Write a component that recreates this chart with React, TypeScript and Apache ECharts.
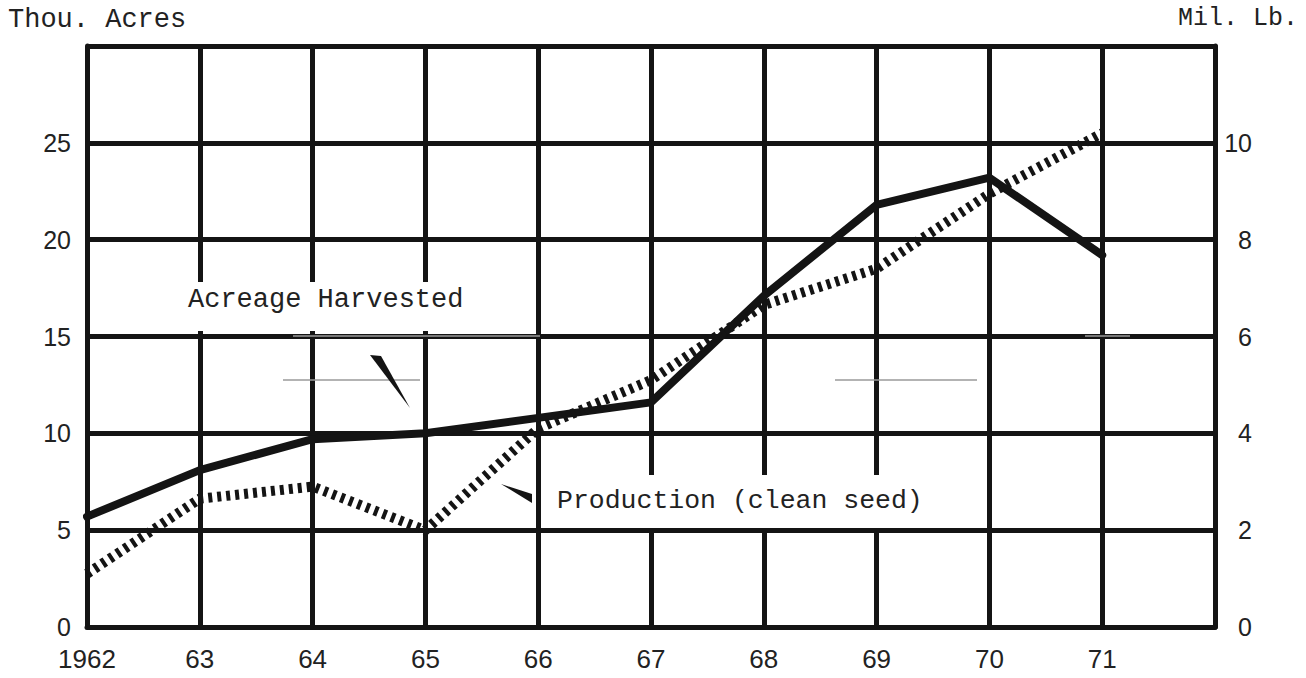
import React, { useEffect, useRef } from "react";
import * as echarts from "echarts";

const years = [1962, 1963, 1964, 1965, 1966, 1967, 1968, 1969, 1970, 1971];
const acreageHarvested = [5.7, 8.1, 9.7, 10.0, 10.8, 11.6, 17.1, 21.8, 23.2, 19.2];
const productionCleanSeed = [1.1, 2.65, 2.9, 2.0, 4.1, 5.1, 6.65, 7.4, 8.95, 10.2];

const xMin = 1962;
const xMax = 1972;
const leftMax = 30;
const leftInterval = 5;
const rightMax = 12;
const rightInterval = 2;

const INK = "#141414";
const MONO = "'Liberation Mono', 'DejaVu Sans Mono', monospace";
const SANS = "'Liberation Sans', Arial, sans-serif";

export default function App() {
  const ref = useRef<HTMLDivElement>(null);

  useEffect(() => {
    if (!ref.current) return;
    const chart = echarts.init(ref.current, undefined, { renderer: "svg" });

    const gridLine = { show: true, lineStyle: { color: INK, width: 5 } };

    chart.setOption({
      animation: false,
      backgroundColor: "#ffffff",
      grid: { left: 87, right: 91, top: 46, bottom: 51, containLabel: false },
      xAxis: {
        type: "value",
        min: xMin,
        max: xMax,
        interval: 1,
        axisLine: { show: true, lineStyle: { color: INK, width: 5 } },
        axisTick: { show: false },
        splitLine: gridLine,
        axisLabel: {
          color: "#222",
          fontFamily: SANS,
          fontSize: 26,
          margin: 19,
          showMaxLabel: true,
          formatter: (v: number) => {
            if (v === 1962) return "1962";
            if (v >= 1972) return "";
            return String(v).slice(2);
          },
        },
      },
      yAxis: [
        {
          type: "value",
          min: 0,
          max: leftMax,
          interval: leftInterval,
          position: "left",
          axisLine: { show: true, lineStyle: { color: INK, width: 5 } },
          axisTick: { show: false },
          splitLine: gridLine,
          axisLabel: {
            color: "#222",
            fontFamily: SANS,
            fontSize: 25,
            margin: 16,
            formatter: (v: number) => (v >= leftMax ? "" : String(v)),
          },
        },
        {
          type: "value",
          min: 0,
          max: rightMax,
          interval: rightInterval,
          position: "right",
          axisLine: { show: true, lineStyle: { color: INK, width: 5 } },
          axisTick: { show: false },
          splitLine: { show: false },
          axisLabel: {
            color: "#222",
            fontFamily: SANS,
            fontSize: 25,
            margin: 37,
            align: "right",
            formatter: (v: number) => (v >= rightMax ? "" : String(v)),
          },
        },
      ],
      series: [
        {
          name: "Acreage Harvested",
          type: "line",
          yAxisIndex: 0,
          data: years.map((y, i) => [y, acreageHarvested[i]]),
          symbol: "none",
          z: 5,
          lineStyle: { color: INK, width: 8, cap: "round", join: "round" },
        },
        {
          name: "Production (clean seed)",
          type: "line",
          yAxisIndex: 1,
          data: years.map((y, i) => [y, productionCleanSeed[i]]),
          symbol: "none",
          z: 6,
          lineStyle: { color: INK, width: 10, type: [4, 5], cap: "butt", join: "miter" },
        },
      ],
      graphic: [
        {
          type: "text",
          left: 8,
          top: 6,
          style: { text: "Thou. Acres", font: `27px ${MONO}`, fill: "#222" },
        },
        {
          type: "text",
          right: 8,
          top: 6,
          style: { text: "Mil. Lb.", font: `25px ${MONO}`, fill: "#222" },
        },
        {
          type: "text",
          z: 10,
          style: {
            x: 182,
            y: 282,
            align: "left",
            verticalAlign: "top",
            text: "Acreage Harvested",
            font: `27px ${MONO}`,
            fill: "#222",
            backgroundColor: "#ffffff",
            padding: [4, 6, 18, 6],
          },
        },
        {
          type: "text",
          z: 10,
          style: {
            x: 549,
            y: 475,
            align: "left",
            verticalAlign: "top",
            text: "Production (clean seed)",
            font: `26.5px ${MONO}`,
            fill: "#222",
            backgroundColor: "#ffffff",
            padding: [12, 10, 14, 8],
          },
        },
        {
          type: "polygon",
          z: 10,
          shape: { points: [[370, 355], [381, 356], [410, 408]] },
          style: { fill: INK },
        },
        {
          type: "polygon",
          z: 10,
          shape: { points: [[501, 484], [532, 494], [532, 503]] },
          style: { fill: INK },
        },
        {
          type: "line",
          z: 1,
          shape: { x1: 293, y1: 336, x2: 540, y2: 336 },
          style: { stroke: "#9a9a9a", lineWidth: 1.5 },
        },
        {
          type: "line",
          z: 1,
          shape: { x1: 283, y1: 380, x2: 420, y2: 380 },
          style: { stroke: "#9a9a9a", lineWidth: 1.5 },
        },
        {
          type: "line",
          z: 1,
          shape: { x1: 835, y1: 380, x2: 977, y2: 380 },
          style: { stroke: "#9a9a9a", lineWidth: 1.5 },
        },
        {
          type: "line",
          z: 1,
          shape: { x1: 1085, y1: 336, x2: 1130, y2: 336 },
          style: { stroke: "#9a9a9a", lineWidth: 1.5 },
        },
      ],
    });

    return () => chart.dispose();
  }, []);

  return (
    <div
      ref={ref}
      style={{ position: "fixed", left: 0, top: 0, width: 1306, height: 678, background: "#fff" }}
    />
  );
}
